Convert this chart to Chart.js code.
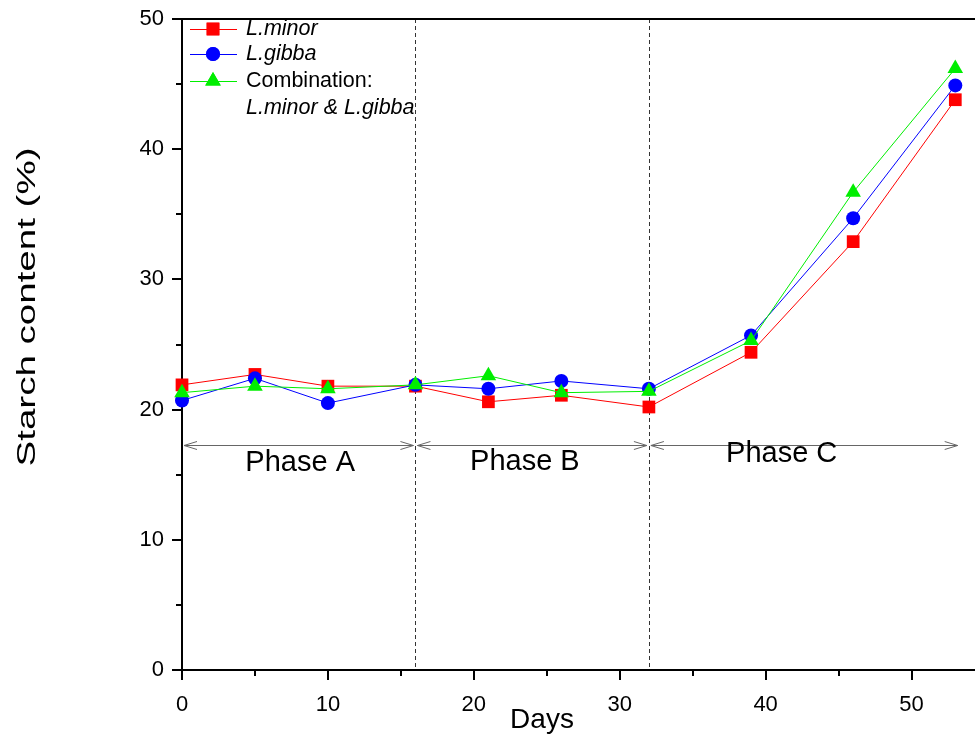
<!DOCTYPE html>
<html>
<head>
<meta charset="utf-8">
<script src="https://cdn.jsdelivr.net/npm/chart.js@4"></script>
<style>
  html, body { margin: 0; padding: 0; background: #fff; }
  canvas { display: block; }
</style>
</head>
<body>
<canvas id="chart" width="975" height="738"></canvas>
<script>
// Sampling days and starch content (%) for each duckweed culture
const days = [0, 5, 10, 16, 21, 26, 32, 39, 46, 53];
const lMinor = [21.9, 22.7, 21.8, 21.8, 20.6, 21.1, 20.2, 24.4, 32.9, 43.8];
const lGibba = [20.7, 22.4, 20.5, 21.9, 21.6, 22.2, 21.6, 25.7, 34.7, 44.9];
const combination = [21.3, 21.8, 21.6, 21.9, 22.6, 21.3, 21.4, 25.3, 36.7, 46.2];

// Phase boundaries (days), phase names and where their labels sit
const phaseBounds = [0, 16, 32, 53.3];
const phaseNames = ['Phase A', 'Phase B', 'Phase C'];
const phaseLabelDay = [8.1, 23.5, 41.1];
const phaseArrowLevel = 17.3;
const phaseLabelLevel = [15.9, 16.0, 16.6];
const phaseDividers = [16, 32];

// Axis ranges and tick steps
const xRange = [0, 54.35];
const yRange = [0, 50];
const majorStep = 10;
const minorStep = 5;

const FONT = "'Liberation Sans', Arial, sans-serif";

const toPoints = (xs, ys) => xs.map((x, i) => ({ x, y: ys[i] }));

const series = [
  { label: 'L.minor', data: lMinor, color: '#ff0000', style: 'rect', radius: 9, order: 2 },
  { label: 'L.gibba', data: lGibba, color: '#0000ff', style: 'circle', radius: 7, order: 1 },
  { label: 'Combination:', data: combination, color: '#00ee00', style: 'triangle', radius: 9, order: 0 }
];

const decorations = {
  id: 'decorations',
  beforeDatasetsDraw(chart) {
    const { ctx, chartArea: a, scales: { x, y } } = chart;
    ctx.save();
    // dashed phase dividers
    ctx.strokeStyle = '#333';
    ctx.lineWidth = 1;
    ctx.setLineDash([4, 3]);
    phaseDividers.forEach(d => {
      const px = Math.round(x.getPixelForValue(d)) + 0.5;
      ctx.beginPath();
      ctx.moveTo(px, a.top);
      ctx.lineTo(px, a.bottom);
      ctx.stroke();
    });
    ctx.setLineDash([]);
    // double-headed phase arrows
    const py = Math.round(y.getPixelForValue(phaseArrowLevel)) + 0.5;
    ctx.strokeStyle = '#666';
    for (let i = 0; i < phaseNames.length; i++) {
      const x0 = x.getPixelForValue(phaseBounds[i]) + 2;
      const x1 = x.getPixelForValue(phaseBounds[i + 1]) - 2;
      ctx.beginPath();
      ctx.moveTo(x0, py);
      ctx.lineTo(x1, py);
      ctx.moveTo(x0 + 13, py - 4);
      ctx.lineTo(x0, py);
      ctx.lineTo(x0 + 13, py + 4);
      ctx.moveTo(x1 - 13, py - 4);
      ctx.lineTo(x1, py);
      ctx.lineTo(x1 - 13, py + 4);
      ctx.stroke();
      ctx.fillStyle = '#000';
      ctx.font = '29px ' + FONT;
      ctx.textAlign = 'center';
      ctx.textBaseline = 'middle';
      ctx.fillText(phaseNames[i], x.getPixelForValue(phaseLabelDay[i]), y.getPixelForValue(phaseLabelLevel[i]));
    }
    ctx.restore();
  },
  afterDraw(chart) {
    const { ctx, chartArea: a, scales: { x, y } } = chart;
    ctx.save();
    // top frame
    ctx.strokeStyle = '#000';
    ctx.lineWidth = 2;
    ctx.beginPath();
    ctx.moveTo(a.left - 1, a.top);
    ctx.lineTo(a.right, a.top);
    ctx.stroke();
    // minor ticks
    for (let v = minorStep; v < xRange[1]; v += majorStep) {
      const px = Math.round(x.getPixelForValue(v));
      ctx.beginPath();
      ctx.moveTo(px, a.bottom);
      ctx.lineTo(px, a.bottom + 6);
      ctx.stroke();
    }
    for (let v = minorStep; v < yRange[1]; v += majorStep) {
      const py = Math.round(y.getPixelForValue(v));
      ctx.beginPath();
      ctx.moveTo(a.left, py);
      ctx.lineTo(a.left - 6, py);
      ctx.stroke();
    }
    // legend
    const lx0 = 190, lx1 = 237, mx = 213, tx = 246;
    const rows = [29, 54, 81];
    series.forEach((s, i) => {
      const ly = rows[i];
      ctx.strokeStyle = s.color;
      ctx.lineWidth = 1;
      ctx.beginPath();
      ctx.moveTo(lx0, ly + 0.5);
      ctx.lineTo(lx1, ly + 0.5);
      ctx.stroke();
      ctx.fillStyle = s.color;
      Chart.helpers.drawPoint(ctx, { pointStyle: s.style, radius: s.radius, rotation: 0, borderWidth: 0 }, mx, ly);
      ctx.fill();
      ctx.fillStyle = '#000';
      ctx.textAlign = 'left';
      ctx.textBaseline = 'middle';
      ctx.font = (i < 2 ? 'italic ' : '') + '21.5px ' + FONT;
      ctx.fillText(s.label, tx, ly);
    });
    ctx.font = 'italic 21.5px ' + FONT;
    ctx.fillText('L.minor & L.gibba', tx, 108);
    // axis titles
    ctx.fillStyle = '#000';
    ctx.font = '25px ' + FONT;
    ctx.textAlign = 'center';
    ctx.textBaseline = 'middle';
    const title = 'Starch content (%)';
    const w = ctx.measureText(title).width;
    ctx.save();
    ctx.translate(28, 307);
    ctx.rotate(-Math.PI / 2);
    ctx.scale(319 / w, 1);
    ctx.fillText(title, 0, 0);
    ctx.restore();
    ctx.font = '28px ' + FONT;
    ctx.fillText('Days', 542, 720);
    ctx.restore();
  }
};

const axisCommon = {
  grid: { drawOnChartArea: false, drawTicks: true, tickLength: 10, color: '#000', lineWidth: 2 },
  border: { display: true, color: '#000', width: 2 }
};

new Chart(document.getElementById('chart'), {
  type: 'line',
  data: {
    datasets: series.map(s => ({
      label: s.label,
      data: toPoints(days, s.data),
      borderColor: s.color,
      backgroundColor: s.color,
      borderWidth: 1,
      pointStyle: s.style,
      pointRadius: s.radius,
      pointBorderWidth: 0,
      pointBackgroundColor: s.color,
      tension: 0,
      clip: false,
      order: s.order
    }))
  },
  options: {
    responsive: false,
    animation: false,
    layout: { autoPadding: false, padding: { top: 19, right: 0, left: 0, bottom: 0 } },
    plugins: { legend: { display: false }, tooltip: { enabled: false } },
    scales: {
      x: {
        type: 'linear',
        min: xRange[0],
        max: xRange[1],
        ...axisCommon,
        ticks: { stepSize: majorStep, includeBounds: false, color: '#000', font: { family: FONT, size: 22 }, padding: 12, maxRotation: 0 },
        afterFit(scale) { scale.height = 68; scale.paddingLeft = 0; scale.paddingRight = 0; }
      },
      y: {
        min: yRange[0],
        max: yRange[1],
        ...axisCommon,
        ticks: { stepSize: majorStep, color: '#000', font: { family: FONT, size: 22 }, padding: 8 },
        afterFit(scale) { scale.width = 182; scale.paddingTop = 0; scale.paddingBottom = 0; }
      }
    }
  },
  plugins: [decorations]
});
</script>
</body>
</html>
